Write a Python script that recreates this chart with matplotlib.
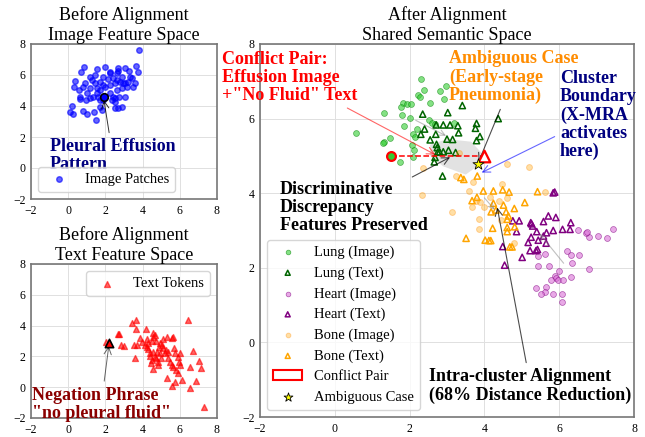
import numpy as np
import matplotlib
matplotlib.use("Agg")
import matplotlib.pyplot as plt
from matplotlib.patches import Patch, Polygon

plt.rcParams['font.family'] = ['Liberation Serif', 'DejaVu Serif']

# ---------------- data ----------------
img_x = [3.82, 3.65, 2.0, 0.87, 1.57, 0.69, 2.7, 3.05, 3.29, 3.73, 2.64, 0.37, 0.31, 0.6, 0.63, 0.63, 0.96, 1.17,
         0.22, 0.1, 0.27, 0.81, 0.99, 1.4, 1.48, 1.71, 1.8, 2.52, 2.7, 2.87, 3.05, 2.52, 2.52, 2.25, 1.71, 1.53, 1.35,
         1.62, 1.17, 1.26, 0.9, 1.44, 1.89, 2.16, 2.43, 2.52, 2.79, 2.96, 3.23, 3.41, 3.59, 3.5, 3.14, 2.87, 2.61,
         2.25, 1.98, 1.89, 1.71, 2.61, 2.87, 2.7, 2.25, 1.44, 1.17, 2.43, 1.89, 2.34, 2.75, 1.71, 1.53, 0.99, 0.78,
         3.32, 3.05, 2.25]
img_y = [7.61, 6.6, 6.54, 6.54, 6.4, 6.17, 6.26, 6.43, 6.26, 6.21, 6.15, 5.61, 5.25, 5.03, 4.6, 4.43, 4.39, 4.5,
         4.0, 3.63, 3.46, 3.68, 3.46, 3.59, 3.1, 3.91, 3.74, 3.85, 3.85, 3.91, 4.6, 4.28, 4.5, 4.82, 5.03, 4.82, 4.6,
         4.6, 5.14, 5.68, 5.46, 5.46, 5.89, 5.74, 5.78, 5.46, 5.57, 5.51, 5.57, 5.78, 5.46, 5.25, 5.2, 5.14, 5.03,
         5.35, 5.25, 5.35, 5.57, 5.68, 5.89, 6.43, 6.1, 6.0, 5.89, 4.6, 4.39, 4.39, 4.6, 4.39, 5.14, 4.82, 5.2,
         5.85, 5.46, 6.2]
img_key = (1.9, 4.55)

txt_x = [6.46, 3.41, 3.65, 3.65, 2.70, 2.75, 2.03, 2.84, 3.0, 3.56, 4.16, 4.58, 4.67, 4.58, 4.22, 3.86, 3.95, 4.13,
         4.31, 4.49, 4.72, 4.94, 5.08, 5.29, 5.56, 5.65, 4.88, 5.02, 5.69, 5.26, 5.2, 5.38, 5.74, 6.73, 6.01, 4.31,
         4.4, 4.58, 4.67, 4.49, 4.43, 4.72, 4.85, 3.59, 4.58, 4.85, 5.38, 5.47, 5.56, 5.65, 5.8, 5.92, 5.97, 6.01,
         5.89, 5.29, 5.74, 5.56, 6.1, 6.55, 7.05, 7.14, 6.87, 6.55, 7.3, 4.76, 4.94, 5.11, 4.22, 3.7, 4.4, 5.0]
txt_y = [4.36, 4.19, 4.36, 3.76, 3.45, 3.48, 2.95, 2.74, 2.68, 2.74, 3.76, 3.5, 3.39, 3.24, 3.11, 3.17, 2.96, 2.74,
         2.85, 3.0, 3.0, 2.85, 3.11, 3.24, 3.17, 3.28, 2.63, 2.74, 2.52, 2.42, 2.2, 2.31, 2.2, 2.35, 2.2, 2.46,
         2.2, 2.31, 1.98, 1.77, 1.55, 1.87, 1.66, 1.87, 1.16, 1.44, 1.87, 1.66, 1.44, 1.33, 1.12, 1.98, 1.66, 1.44,
         0.9, 0.58, 0.36, 0.08, 0.47, 1.33, 1.72, 1.22, 0.4, -0.07, -1.26, 2.31, 2.2, 2.52, 2.6, 2.75, 2.0, 1.9]
txt_key = (2.2, 2.85)

lung_img_x = [2.30, 2.39, 2.23, 2.29, 2.55, 2.80, 2.92, 2.97, 1.83, 1.76, 1.92, 2.04, 1.32, 1.81, 2.01, 1.85, 2.10,
              2.14, 2.19, 2.51, 2.59, 2.68, 3.19, 0.57, 1.48, 1.32, 1.28, 2.06, 2.10, 1.73, 2.12]
lung_img_y = [7.07, 6.78, 6.63, 6.58, 6.43, 6.74, 6.52, 6.87, 6.41, 6.32, 6.38, 6.39, 6.14, 6.10, 6.01, 5.80, 5.60,
              5.51, 5.71, 5.96, 5.89, 5.85, 5.87, 5.62, 5.47, 5.36, 5.34, 5.30, 4.96, 4.83, 5.16]
lung_txt_x = [2.35, 3.02, 3.41, 2.40, 2.71, 2.90, 3.08, 3.29, 3.79, 3.76, 2.30, 2.55, 2.70, 3.00, 3.15, 3.31, 3.88,
              3.79, 2.72, 2.74, 2.80, 2.90, 3.04, 2.75, 2.68, 2.66, 2.88, 3.23, 4.37]
lung_txt_y = [6.12, 6.16, 6.35, 5.72, 5.83, 5.83, 5.83, 5.81, 5.87, 5.74, 5.58, 5.43, 5.58, 5.45, 5.44, 5.62, 5.52,
              5.41, 5.31, 5.22, 5.11, 5.11, 5.15, 5.10, 4.96, 4.84, 4.46, 5.09, 6.00]

heart_img_x = [7.43, 7.27, 7.03, 6.81, 6.72, 6.74, 6.49, 6.20, 6.32, 6.53, 6.33, 6.80, 5.42, 5.63, 5.42, 5.73, 6.00,
               5.89, 5.91, 5.98, 6.11, 5.77, 6.31, 5.38, 5.65, 5.62, 5.50, 5.84, 6.07, 6.08]
heart_img_y = [3.05, 2.79, 2.85, 2.82, 2.94, 2.95, 3.00, 2.46, 2.33, 2.33, 2.14, 1.98, 2.32, 2.37, 2.05, 2.05, 1.92,
               1.78, 1.72, 1.67, 1.67, 1.67, 1.76, 1.47, 1.48, 1.36, 1.30, 1.31, 1.30, 1.09]
heart_txt_x = [5.71, 5.91, 6.31, 5.58, 5.24, 5.26, 4.76, 4.93, 5.29, 4.86, 5.40, 5.66, 5.84, 6.09, 6.29, 5.58, 5.44,
               5.25, 5.17, 5.65, 5.22, 5.38, 5.42, 4.49, 5.01, 4.54, 5.84, 5.88]
heart_txt_y = [3.39, 3.35, 3.21, 3.24, 3.21, 3.18, 3.26, 3.26, 3.12, 2.97, 2.97, 2.94, 3.00, 3.03, 3.03, 2.85, 2.74,
               2.82, 2.68, 2.66, 2.46, 2.46, 2.49, 2.57, 2.28, 2.07, 4.01, 4.03]

bone_img_x = [2.35, 3.33, 4.61, 5.18, 3.69, 4.46, 3.58, 4.40, 4.60, 4.15, 3.66, 4.00, 3.13, 3.86, 3.86, 4.44, 4.79,
              3.78, 3.88, 2.32, 3.24, 5.63]
bone_img_y = [4.68, 5.09, 4.78, 4.70, 4.29, 4.26, 4.06, 3.80, 3.88, 3.89, 3.64, 3.64, 3.50, 3.30, 3.04, 3.27, 2.66,
              3.80, 3.77, 3.95, 4.45, 4.04]
bone_txt_x = [3.37, 3.45, 3.81, 3.97, 4.24, 4.49, 4.66, 5.42, 3.67, 3.80, 4.24, 4.51, 4.80, 5.08, 4.18, 4.31, 4.58,
              4.64, 4.61, 4.22, 4.61, 4.81, 4.61, 3.51, 4.02, 4.12, 4.17, 4.68, 4.74]
bone_txt_y = [4.42, 4.37, 4.46, 4.06, 4.06, 4.09, 4.03, 4.04, 3.80, 3.89, 3.73, 3.68, 3.59, 3.75, 3.50, 3.55, 3.50,
              3.39, 3.30, 3.06, 3.08, 3.10, 2.97, 2.79, 2.74, 2.73, 2.73, 2.56, 2.56]

conflict_img = (1.5, 5.0)
conflict_txt = (4.0, 5.0)
ambiguous = (3.82, 4.78)
hull_x = [2.55, 3.0, 3.65, 3.95, 3.85, 3.5, 2.9, 2.55]
hull_y = [5.3, 5.45, 5.38, 5.05, 4.75, 4.5, 4.72, 5.0]

ticks = [-2, 0, 2, 4, 6, 8]

# ---------------- figure ----------------
W, H = 645, 437
fig = plt.figure(figsize=(W / 100, H / 100), dpi=100)
ax1 = fig.add_axes([31 / W, 1 - 199 / H, 186 / W, 155 / H])
ax2 = fig.add_axes([31 / W, 1 - 418 / H, 186 / W, 154 / H])
ax3 = fig.add_axes([260 / W, 1 - 417 / H, 374 / W, 373 / H])

for ax in (ax1, ax2, ax3):
    ax.set_xlim(-2, 8)
    ax.set_ylim(-2, 8)
    ax.set_xticks(ticks)
    ax.set_yticks(ticks)
    ax.grid(True, color='0.88', lw=0.7)
    ax.set_axisbelow(True)
    ax.tick_params(length=0, pad=4, labelsize=8.5)
    for s in ax.spines.values():
        s.set_color('#777777')
        s.set_linewidth(1.2)

bold = dict(fontsize=13, fontweight='bold', linespacing=1.08, ha='left', va='baseline')

# ---- top-left ----
ax1.set_title('Before Alignment\nImage Feature Space', fontsize=13, pad=3)
ax1.scatter(img_x, img_y, s=16, c='blue', alpha=0.6, label='Image Patches')
ax1.scatter([img_key[0]], [img_key[1]], s=30, c='blue', edgecolors='black', linewidths=1.2, zorder=4)
ax1.annotate('Pleural Effusion\nPattern', xy=img_key, xytext=(-0.98, -0.08),
             color='navy', arrowprops=dict(arrowstyle='->', color='black', lw=0.7, alpha=0.8), **bold)
ax1.legend(loc='lower left', fontsize=10.5, markerscale=1.0)

# ---- bottom-left ----
ax2.set_title('Before Alignment\nText Feature Space', fontsize=13, pad=3)
ax2.scatter(txt_x, txt_y, s=18, c='red', marker='^', alpha=0.6, label='Text Tokens')
ax2.scatter([txt_key[0]], [txt_key[1]], s=36, c='red', marker='^', edgecolors='black', linewidths=1.2, zorder=4)
ax2.annotate('Negation Phrase\n"no pleural fluid"', xy=txt_key, xytext=(-1.96, -1.98),
             color='darkred', arrowprops=dict(arrowstyle='->', color='black', lw=0.7, alpha=0.6), **bold)
ax2.legend(loc='upper right', fontsize=10.5)

# ---- right ----
ax3.set_title('After Alignment\nShared Semantic Space', fontsize=13, pad=3)
ax3.add_patch(Polygon(np.column_stack([hull_x, hull_y]), closed=True, facecolor='0.75', alpha=0.45,
                      edgecolor='none', zorder=1))
ax3.scatter(lung_img_x, lung_img_y, s=18, c='limegreen', alpha=0.6, edgecolors='green', linewidths=0.5,
            label='Lung (Image)', zorder=2)
ax3.scatter(lung_txt_x, lung_txt_y, s=20, marker='^', facecolors='none', edgecolors='darkgreen', linewidths=1.1,
            label='Lung (Text)', zorder=2)
ax3.scatter(heart_img_x, heart_img_y, s=18, c='orchid', alpha=0.6, edgecolors='purple', linewidths=0.5,
            label='Heart (Image)', zorder=2)
ax3.scatter(heart_txt_x, heart_txt_y, s=20, marker='^', facecolors='none', edgecolors='purple', linewidths=1.1,
            label='Heart (Text)', zorder=2)
ax3.scatter(bone_img_x, bone_img_y, s=18, c='orange', alpha=0.35, edgecolors='darkorange', linewidths=0.7,
            label='Bone (Image)', zorder=2)
ax3.scatter(bone_txt_x, bone_txt_y, s=20, marker='^', facecolors='none', edgecolors='orange', linewidths=1.1,
            label='Bone (Text)', zorder=2)

# centroid shift arrows (image -> text)
for ix, iy, tx, ty in [(lung_img_x, lung_img_y, lung_txt_x, lung_txt_y),
                       (heart_img_x, heart_img_y, heart_txt_x, heart_txt_y),
                       (bone_img_x, bone_img_y, bone_txt_x, bone_txt_y)]:
    ax3.annotate('', xy=(np.mean(tx), np.mean(ty)), xytext=(np.mean(ix), np.mean(iy)),
                 arrowprops=dict(arrowstyle='->', color='gray', lw=0.8, alpha=0.5))

# conflict pair
ax3.plot([conflict_img[0], conflict_txt[0]], [conflict_img[1], conflict_txt[1]], color='red', ls='--', lw=1.1,
         zorder=3)
ax3.scatter([conflict_img[0]], [conflict_img[1]], s=40, c='limegreen', edgecolors='red', linewidths=1.6, zorder=4)
ax3.scatter([conflict_txt[0]], [conflict_txt[1]], s=70, marker='^', facecolors='white', edgecolors='red',
            linewidths=1.6, zorder=4)
ax3.scatter([ambiguous[0]], [ambiguous[1]], s=70, marker='*', c='yellow', edgecolors='black', linewidths=0.6,
            zorder=5, label='Ambiguous Case')

mid = ((conflict_img[0] + conflict_txt[0]) / 2, conflict_img[1])
ax3.annotate('Conflict Pair:\nEffusion Image\n+"No Fluid" Text', xy=mid, xytext=(-3.02, 6.5),
             color='red', annotation_clip=False,
             arrowprops=dict(arrowstyle='->', color='red', lw=0.8, alpha=0.6), **bold)
ax3.annotate('Ambiguous Case\n(Early-stage\nPneumonia)', xy=ambiguous, xytext=(3.05, 6.5),
             color='darkorange',
             arrowprops=dict(arrowstyle='->', color='black', lw=0.8, alpha=0.7), **bold)
ax3.annotate('Cluster\nBoundary\n(X-MRA\nactivates\nhere)', xy=(3.86, 4.52), xytext=(6.02, 5.0),
             color='navy',
             arrowprops=dict(arrowstyle='->', color='blue', lw=0.8, alpha=0.6), **bold)
ax3.annotate('Discriminative\nDiscrepancy\nFeatures Preserved', xy=(3.15, 5.0), xytext=(-1.47, 3.01),
             color='black',
             arrowprops=dict(arrowstyle='->', color='black', lw=0.8, alpha=0.7), **bold)
ax3.annotate('Intra-cluster Alignment\n(68% Distance Reduction)', xy=(4.33, 3.69), xytext=(2.53, -1.53),
             color='black',
             arrowprops=dict(arrowstyle='->', color='black', lw=0.8, alpha=0.7), **bold)

handles, labels = ax3.get_legend_handles_labels()
order = ['Lung (Image)', 'Lung (Text)', 'Heart (Image)', 'Heart (Text)', 'Bone (Image)', 'Bone (Text)']
hmap = dict(zip(labels, handles))
hs = [hmap[k] for k in order] + [Patch(facecolor='none', edgecolor='red', lw=1.5), hmap['Ambiguous Case']]
ls = order + ['Conflict Pair', 'Ambiguous Case']
ax3.legend(hs, ls, loc='lower left', fontsize=10.5, labelspacing=0.5, markerscale=0.8)

fig.savefig('out.png', dpi=100)
